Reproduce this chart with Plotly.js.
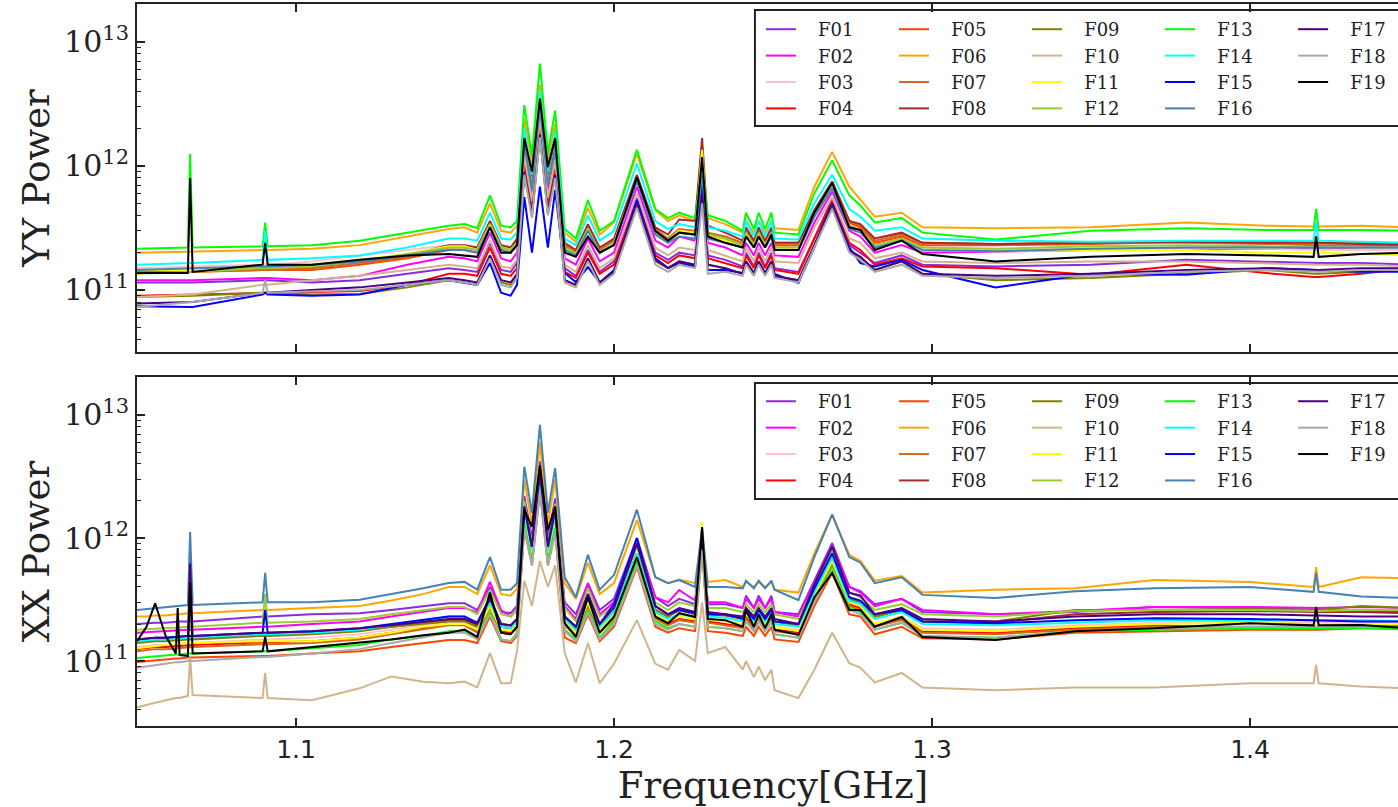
<!DOCTYPE html>
<html><head><meta charset="utf-8">
<script src="https://cdn.plot.ly/plotly-3.0.1.min.js"></script>
<style>html,body{margin:0;padding:0;overflow:hidden;background:#fff;width:1398px;height:807px}#chart{width:1415px;height:807px}</style>
</head><body><div id="chart"></div>
<script>
// Feed labels and colours
const labels = ['F01','F02','F03','F04','F05','F06','F07','F08','F09','F10','F11','F12','F13','F14','F15','F16','F17','F18','F19'];
const colors = ['#8a2be2','#ff00ff','#ffc0cb','#ff0000','#ff4500','#ffa500','#d2691e','#a52a2a','#808000','#d2b48c','#ffff00','#9acd32','#00ff00','#00ffff','#0000ff','#4682b4','#4b0082','#a9a9a9','#000000'];

// Frequency samples [GHz]
const freqYY = [1.050,1.066,1.0667,1.0675,1.0895,1.0903,1.0911,1.105,1.120,1.135,1.148,1.153,1.157,1.161,1.1645,1.1675,1.1695,1.1718,1.1742,1.1767,1.1792,1.1815,1.1845,1.188,1.1918,1.1955,1.200,1.2072,1.213,1.217,1.2205,1.2255,1.2277,1.2295,1.235,1.2405,1.2415,1.2440,1.2455,1.2475,1.2495,1.2505,1.258,1.263,1.2686,1.274,1.2775,1.282,1.2905,1.297,1.320,1.350,1.380,1.405,1.4200,1.4208,1.4216,1.435,1.450];
const freqXX = [1.050,1.0530,1.0557,1.0590,1.0622,1.0628,1.0634,1.0660,1.0667,1.0675,1.0895,1.0903,1.0911,1.105,1.120,1.130,1.140,1.148,1.153,1.157,1.161,1.1645,1.1675,1.1695,1.1718,1.1742,1.1767,1.1792,1.1815,1.1845,1.188,1.1918,1.1955,1.200,1.2072,1.213,1.217,1.2205,1.2255,1.2277,1.2295,1.235,1.2405,1.2415,1.2440,1.2455,1.2475,1.2495,1.2505,1.258,1.263,1.2686,1.274,1.2775,1.282,1.2905,1.297,1.320,1.345,1.370,1.400,1.4200,1.4208,1.4216,1.435,1.450];

// YY power, units of 1e11
const yyF01 = [1.15,1.15,1.15,1.15,1.2,1.2,1.2,1.15,1.2,1.35, 1.5,1.45,1.4,2.4,1.45,1.4,1.65,11,5,22, 5.3,10.5,1.5,1.3,2.1,1.4,1.7,5.5,2.0,1.75, 2.0,1.9,7,1.9,1.75,1.55,2.0,1.55,2.0,1.55, 2.0,1.5,1.4,2.6,5.4,2.3,2.0,1.65,1.9,1.6, 1.55,1.6,1.75,1.7,1.65,1.65,1.65,1.65,1.6];
const yyF02 = [1.2,1.2,1.2,1.2,1.25,1.25,1.25,1.2,1.3,1.6, 1.85,1.8,1.7,2.9,1.8,1.7,2.0,14,6,28, 6.5,13,1.8,1.6,2.6,1.7,2.0,6.8,2.5,2.2, 2.7,2.5,8,2.4,2.2,1.9,2.4,1.9,2.4,1.9, 2.4,1.9,1.85,3.5,6.2,3.0,2.7,2.0,2.3,2.0, 2.05,2.1,2.15,2.15,2.15,2.15,2.15,2.2,2.2];
const yyF03 = [1.5,1.55,1.55,1.55,1.6,1.6,1.6,1.7,1.9,2.1, 2.3,2.3,2.2,3.5,2.3,2.2,2.5,16,7,31, 7.5,15,2.3,2.0,3.2,2.1,2.5,8.0,3.0,2.6, 3.0,2.9,9,2.8,2.6,2.3,2.9,2.3,2.9,2.3, 2.9,2.3,2.2,4.2,7.0,3.4,3.1,2.3,2.6,2.2, 2.1,2.15,2.2,2.15,2.1,2.1,2.1,2.1,2.1];
const yyF04 = [0.9,0.92,0.92,0.92,0.95,0.95,0.95,0.97,0.98,1.1, 1.35,1.35,1.3,2.2,1.35,1.3,1.5,10,4.5,20, 4.8,9.5,1.4,1.25,2.0,1.35,1.6,5.2,1.9,1.65, 1.9,1.8,6.5,1.8,1.65,1.5,1.9,1.5,1.9,1.5, 1.9,1.45,1.35,2.6,5.2,2.4,2.1,1.6,1.8,1.55, 1.5,1.33,1.6,1.37,1.27,1.27,1.27,1.35,1.5];
const yyF05 = [1.4,1.4,1.4,1.4,1.45,1.45,1.45,1.45,1.6,1.8, 2.1,2.1,2.0,3.3,2.1,2.0,2.4,15,6.8,30, 7.2,14,2.2,1.95,3.1,2.0,2.4,8.0,3.0,2.5, 2.9,2.8,9,2.8,2.6,2.3,2.9,2.3,2.9,2.3, 2.9,2.3,2.3,4.3,7.3,3.5,3.2,2.4,2.7,2.3, 2.3,2.35,2.45,2.45,2.4,2.4,2.4,2.4,2.35];
const yyF06 = [2.0,2.05,2.05,2.05,2.1,2.1,2.1,2.15,2.3,2.7, 3.1,3.2,2.9,5.0,3.0,2.9,3.3,24,10.5,45, 11,22,2.9,2.45,4.6,2.8,3.5,12.5,4.4,3.6, 4.0,3.6,9.5,3.8,3.4,2.9,3.6,2.9,3.6,2.9, 3.6,3.15,3.05,6.8,13,6.8,5.3,3.9,4.2,3.2, 3.15,3.2,3.5,3.3,3.25,3.3,3.25,3.3,3.2];
const yyF07 = [1.4,1.4,1.4,1.4,1.45,1.45,1.45,1.5,1.65,1.85, 2.2,2.2,2.1,3.4,2.2,2.1,2.5,16,7,32, 7.5,15,2.3,2.0,3.2,2.1,2.5,8.2,3.1,2.6, 3.1,3.0,9.5,2.9,2.7,2.4,3.0,2.4,3.0,2.4, 3.0,2.4,2.4,4.4,7.5,3.6,3.3,2.5,2.8,2.4, 2.35,2.4,2.4,2.35,2.3,2.3,2.3,2.3,2.3];
const yyF08 = [1.45,1.45,1.45,1.45,1.5,1.5,1.5,1.55,1.7,1.9, 2.3,2.3,2.2,3.6,2.3,2.2,2.6,17,7.5,33, 8,16,2.4,2.1,3.4,2.2,2.6,8.5,3.2,2.8, 3.7,3.6,16.8,3.3,2.9,2.5,3.2,2.5,3.2,2.5, 3.2,2.4,2.4,4.4,7.5,3.6,3.4,2.6,2.9,2.4, 2.35,2.4,2.45,2.4,2.4,2.4,2.4,2.35,2.3];
const yyF09 = [0.88,0.9,0.9,0.9,0.95,0.95,0.95,0.92,0.93,1.05, 1.2,1.15,1.1,1.9,1.15,1.1,1.3,9,4,18, 4.2,8.5,1.2,1.1,1.8,1.14,1.4,4.8,1.7,1.5, 1.7,1.6,6,1.6,1.5,1.35,1.7,1.35,1.7,1.35, 1.7,1.3,1.2,2.3,4.7,2.1,1.8,1.45,1.7,1.35, 1.2,1.25,1.35,1.45,1.35,1.35,1.35,1.4,1.45];
const yyF10 = [0.88,0.92,0.92,0.92,1.1,1.1,1.1,1.2,1.3,1.45, 1.6,1.55,1.5,2.5,1.55,1.5,1.75,12,5.2,24, 5.5,11,1.6,1.4,2.3,1.5,1.8,6.0,2.2,1.9, 2.2,2.1,7,2.1,1.9,1.7,2.2,1.7,2.2,1.7, 2.2,1.7,1.65,3.2,5.6,2.6,2.4,1.8,2.0,1.7, 1.65,1.7,1.7,1.65,1.6,1.6,1.6,1.6,1.55];
const yyF11 = [1.45,1.45,1.45,1.45,1.55,1.55,1.55,1.6,1.75,1.95, 2.25,2.25,2.1,3.4,2.2,2.1,2.4,15,6.8,31, 7.3,14,2.2,1.95,3.1,2.0,2.4,7.8,3.0,2.5, 3.0,2.9,13.5,2.8,2.5,2.2,2.8,2.2,2.8,2.2, 2.8,2.2,2.1,4.0,6.8,3.2,3.0,2.2,2.5,2.1, 2.05,2.1,2.1,2.0,2.0,2.0,2.0,1.95,1.9];
const yyF12 = [1.35,1.4,1.4,1.4,1.5,1.5,1.5,1.55,1.7,1.95, 2.2,2.2,2.1,3.4,2.2,2.1,2.4,15,6.8,31, 7.3,14,2.2,1.95,3.1,2.0,2.4,7.8,2.9,2.5, 2.9,2.8,9,2.8,2.6,2.3,2.9,2.3,2.9,2.3, 2.9,2.2,2.2,4.1,6.9,3.3,3.0,2.3,2.6,2.2, 2.15,2.25,2.3,2.25,2.2,2.2,2.2,2.2,2.2];
const yyF13 = [2.15,2.2,12.5,2.2,2.25,3.5,2.25,2.3,2.5,2.9, 3.3,3.4,3.15,5.8,3.3,3.2,3.6,31,12,67, 12.5,28,3.1,2.6,5.3,3.0,3.6,13.5,4.5,3.8, 4.2,3.8,10,4.0,3.6,3.0,4.2,3.1,4.2,3.1, 4.2,2.9,2.8,6.0,11.1,5.8,4.8,3.5,3.8,2.9, 2.55,3.0,3.15,3.05,3.05,4.5,3.05,3.05,3.0];
const yyF14 = [1.6,1.65,1.65,1.65,1.75,3.0,1.75,1.8,1.9,2.2, 2.6,2.6,2.5,4.2,2.6,2.55,2.9,20,8.5,40, 9,19,2.6,2.3,4.0,2.5,3.0,10.5,3.6,3.1, 3.4,3.2,9,3.2,3.0,2.7,3.6,2.7,3.6,2.7, 3.6,2.6,2.55,5.0,8.5,4.5,3.9,3.0,3.2,2.6, 2.5,2.45,2.5,2.5,2.5,3.5,2.5,2.45,2.4];
const yyF15 = [0.74,0.73,0.73,0.73,0.92,0.95,0.92,0.9,0.92,1.1, 1.2,1.14,1.1,1.65,0.95,0.9,1.1,5.6,2.0,6.8, 2.2,6.4,1.37,1.16,1.53,1.15,1.4,5.3,1.8,1.5, 1.65,1.55,8,1.45,1.45,1.37,1.7,1.37,1.7,1.37, 1.7,1.35,1.14,2.2,5.0,2.2,1.65,1.55,1.75,1.45, 1.05,1.35,1.33,1.5,1.45,1.45,1.45,1.4,1.4];
const yyF16 = [1.45,1.5,1.5,1.5,1.55,1.55,1.55,1.6,1.7,1.9, 2.1,2.1,2.0,3.2,2.1,2.0,2.3,15,6.5,30, 7,14,2.1,1.9,3.0,2.0,2.3,7.5,2.8,2.4, 2.7,2.6,8.5,2.6,2.4,2.2,2.7,2.2,2.7,2.2, 2.7,2.1,2.1,3.9,6.6,3.1,2.9,2.2,2.5,2.1, 2.05,2.15,2.2,2.2,2.2,2.2,2.2,2.2,2.2];
const yyF17 = [0.78,0.8,0.8,0.8,0.95,0.95,0.95,1.0,1.05,1.15, 1.25,1.2,1.15,1.9,1.2,1.15,1.35,9,4,18, 4.2,8.5,1.2,1.1,1.8,1.15,1.45,5.0,1.75,1.5, 1.7,1.6,6,1.6,1.5,1.35,1.7,1.35,1.7,1.35, 1.7,1.3,1.2,2.3,5.0,2.1,1.85,1.45,1.7,1.35, 1.3,1.35,1.45,1.5,1.45,1.45,1.45,1.5,1.5];
const yyF18 = [0.73,0.8,0.8,0.8,0.95,1.2,0.95,0.97,1.0,1.1, 1.2,1.15,1.1,1.8,1.1,1.05,1.25,8.5,3.8,17, 4.0,8,1.15,1.05,1.7,1.1,1.35,4.6,1.6,1.4, 1.6,1.5,5,1.35,1.4,1.3,1.6,1.3,1.6,1.3, 1.6,1.25,1.15,2.2,4.5,2.0,1.75,1.4,1.6,1.3, 1.25,1.3,1.4,1.45,1.4,1.4,1.4,1.45,1.45];
const yyF19 = [1.37,1.37,8.0,1.4,1.6,2.4,1.6,1.6,1.75,1.9, 1.95,1.9,1.85,3.2,2.0,2.0,2.3,16.8,9.0,35, 9.8,16.8,2.0,1.85,2.7,2.0,2.3,8.1,3.0,2.5, 2.9,2.8,11.8,2.7,2.4,2.2,2.7,2.2,2.7,2.2, 2.8,2.1,2.1,4.2,7.3,3.2,3.05,2.1,2.5,1.95, 1.7,1.85,1.95,1.9,1.85,2.7,1.85,1.95,2.0];

// XX power, units of 1e11
const xxF01 = [2.0,2.03,2.05,2.05,2.1,2.1,2.1,2.1,2.1,2.1, 2.3,2.3,2.3,2.4,2.45,2.6,2.8,2.95,2.95,2.6, 4.0,2.5,2.45,2.8,22,10,42,10,21,3.0, 2.4,4.3,2.6,3.2,10,3.3,2.8,3.2,2.9,10, 2.9,2.9,2.7,3.4,2.7,3.4,2.7,3.4,2.5,2.4, 4.5,9.1,4.0,3.7,2.9,3.2,2.5,2.4,2.5,2.75, 2.7,2.6,2.6,2.6,2.55,2.5];
const xxF02 = [1.7,1.72,1.75,1.75,1.78,1.78,1.78,1.8,1.8,1.8, 1.9,1.9,1.9,2.0,2.1,2.3,2.5,2.7,2.7,2.5, 4.4,2.6,2.3,2.6,20,9,38,9,19,2.8, 2.2,4.2,2.4,3.0,9,3.3,3.0,3.78,3.1,10, 3.0,3.0,2.7,3.2,2.7,3.2,2.7,3.2,2.5,2.3, 4.3,8.5,4.0,3.6,2.8,3.2,2.6,2.4,2.55,2.75, 2.75,2.7,2.7,2.7,2.75,2.7];
const xxF03 = [1.3,1.32,1.35,1.35,1.38,1.38,1.38,1.4,1.4,1.4, 1.5,1.5,1.5,1.55,1.65,1.8,1.95,2.1,2.1,1.85, 2.9,1.8,1.75,2.0,15,7.5,30,7.5,14,2.1, 1.7,3.0,1.8,2.4,7,2.4,2.1,2.3,2.2,9, 2.2,2.1,2.0,2.4,2.0,2.4,2.0,2.4,1.9,1.8, 3.4,6.5,3.0,2.8,2.0,2.3,1.85,1.8,1.95,2.05, 2.1,2.05,2.05,2.05,2.05,2.05];
const xxF04 = [1.25,1.27,1.3,1.3,1.32,1.32,1.32,1.35,1.35,1.35, 1.42,1.42,1.42,1.45,1.55,1.7,1.85,2.0,2.0,1.75, 2.8,1.75,1.7,1.9,14,7,28,7,13,2.0, 1.65,2.9,1.75,2.3,6.8,2.3,2.0,2.2,2.1,9, 2.1,2.0,1.9,2.3,1.9,2.3,1.9,2.3,1.8,1.7, 3.3,6.2,2.9,2.7,1.95,2.2,1.75,1.7,1.85,1.95, 1.85,1.85,1.85,1.85,1.9,1.9];
const xxF05 = [0.98,1.0,1.02,1.03,1.05,1.05,1.05,1.07,1.07,1.07, 1.1,1.1,1.1,1.15,1.2,1.3,1.4,1.48,1.48,1.4, 2.3,1.45,1.4,1.6,12,6,24,6,11,1.55, 1.4,2.4,1.45,1.9,5.8,1.9,1.7,1.85,1.75,8, 1.75,1.7,1.6,1.9,1.6,1.9,1.6,1.9,1.5,1.43, 2.8,5.2,2.4,2.3,1.65,1.9,1.53,1.5,1.7,1.75, 1.8,1.8,1.8,1.8,1.85,1.85];
const xxF06 = [2.3,2.3,2.35,2.35,2.4,2.4,2.4,2.45,2.45,2.45, 2.6,2.6,2.6,2.7,2.8,3.1,3.5,4.0,4.0,3.5, 6.0,3.5,3.4,3.9,30,13,60,13,30,4.3, 3.2,6.3,3.5,4.3,14,4.8,4.3,4.6,4.3,11, 4.4,4.55,4.0,4.4,4.0,4.4,4.0,4.4,3.8,3.6, 7.5,15.5,7.3,6.5,4.5,4.9,3.6,3.8,3.9,4.55, 4.4,4.0,5.8,4.0,4.8,4.7];
const xxF07 = [1.2,1.22,1.25,1.25,1.27,1.27,1.27,1.3,1.3,1.3, 1.37,1.37,1.37,1.4,1.5,1.65,1.8,1.95,1.95,1.7, 2.7,1.7,1.65,1.85,14,7,27,7,13,1.95, 1.6,2.8,1.7,2.2,6.5,2.2,1.95,2.15,2.05,9, 2.05,1.95,1.85,2.2,1.85,2.2,1.85,2.2,1.75,1.65, 3.2,6.0,2.8,2.6,1.9,2.15,1.7,1.65,1.8,1.9, 1.9,1.9,1.9,1.9,1.95,1.95];
const xxF08 = [1.45,1.47,1.5,1.5,1.5,1.5,1.5,1.52,1.52,1.52, 1.62,1.62,1.62,1.68,1.78,1.9,2.05,2.15,2.15,1.95, 3.1,1.9,1.85,2.1,17,8,33,8,16,2.2, 1.8,3.3,1.9,2.5,7.5,2.6,2.3,2.6,2.4,9, 2.4,2.35,2.2,2.6,2.2,2.6,2.2,2.6,2.1,1.95, 3.6,7.0,3.2,3.0,2.3,2.6,2.1,2.05,2.4,2.5, 2.55,2.5,2.5,2.5,2.5,2.45];
const xxF09 = [1.4,1.42,1.45,1.45,1.48,1.48,1.48,1.5,1.5,1.5, 1.6,1.6,1.6,1.65,1.75,1.9,2.0,2.1,2.1,1.9, 3.0,1.9,1.85,2.1,17,8,32,8,16,2.2, 1.8,3.3,1.9,2.5,7.5,2.6,2.3,2.6,2.4,9, 2.4,2.4,2.2,2.6,2.2,2.6,2.2,2.6,2.1,1.95, 3.6,7.0,3.2,3.0,2.3,2.6,2.1,2.1,2.6,2.6, 2.65,2.6,2.6,2.6,2.8,2.7];
const xxF10 = [0.42,0.44,0.46,0.48,0.5,0.5,0.5,0.52,1.07,0.53, 0.5,0.8,0.5,0.48,0.6,0.75,0.68,0.66,0.68,0.61, 1.16,0.66,0.66,1.2,4.5,2.8,6.5,4.0,6.0,1.16, 0.67,1.4,0.66,0.95,2.15,0.95,0.85,1.23,1.0,3.0, 1.16,1.3,0.85,1.0,0.74,0.9,0.7,0.85,0.58,0.5, 0.85,1.7,0.96,0.88,0.67,0.8,0.61,0.58,0.61,0.61, 0.66,0.66,0.93,0.66,0.62,0.6];
const xxF11 = [1.27,1.3,1.32,1.35,1.38,1.38,1.38,1.4,1.4,1.4, 1.45,1.45,1.45,1.45,1.55,1.7,1.9,2.0,2.0,1.8, 2.8,1.8,1.75,2.0,15,7.5,30,7.5,14,2.1, 1.7,3.0,1.8,2.4,7,2.4,2.1,2.3,2.2,13.5, 2.2,2.1,2.0,2.4,2.0,2.4,2.0,2.4,1.9,1.75, 3.4,6.5,3.0,2.8,2.0,2.3,1.8,1.75,1.9,2.0, 2.05,2.0,2.0,2.0,2.0,2.0];
const xxF12 = [1.8,1.82,1.85,1.85,1.88,1.88,1.88,1.9,1.9,1.9, 2.05,3.5,2.05,2.1,2.2,2.4,2.6,2.75,2.75,2.4, 3.8,2.4,2.3,2.6,20,9,36,9,19,2.7, 2.1,3.9,2.3,2.8,8.5,3.0,2.6,3.0,2.8,10, 2.7,2.7,2.5,2.9,2.5,2.9,2.5,2.9,2.4,2.2, 4.0,8.0,3.6,3.3,2.6,2.9,2.4,2.3,2.55,2.6, 2.6,2.55,2.55,2.55,2.6,2.6];
const xxF13 = [1.06,1.08,1.1,1.12,1.13,1.13,1.13,1.15,1.15,1.15, 1.2,1.2,1.2,1.27,1.35,1.5,1.6,1.75,1.75,1.55, 2.5,1.5,1.45,1.7,13,6.5,26,6.5,12,1.8, 1.5,2.6,1.55,2.1,6.3,2.1,1.85,2.0,1.9,8.5, 1.9,1.85,1.75,2.1,1.75,2.1,1.75,2.1,1.65,1.55, 3.1,5.8,2.7,2.5,1.8,2.05,1.6,1.55,1.75,1.8, 1.85,1.85,1.85,1.85,1.85,1.8];
const xxF14 = [1.45,1.47,1.5,1.5,1.52,1.52,1.52,1.55,1.55,1.55, 1.65,1.65,1.65,1.7,1.8,1.95,2.15,2.3,2.3,2.0, 3.0,1.9,1.85,2.1,16,8,32,8,15,2.2, 1.8,3.2,1.9,2.5,7.5,2.5,2.2,2.4,2.3,9, 2.3,2.25,2.1,2.5,2.1,2.5,2.1,2.5,2.0,1.9, 3.6,7.0,3.1,2.9,2.2,2.5,2.0,1.95,2.05,2.15, 2.15,2.15,2.15,2.15,2.15,2.1];
const xxF15 = [1.5,1.52,1.55,1.55,1.58,1.58,1.58,1.6,1.6,1.6, 1.7,2.6,1.7,1.75,1.85,2.0,2.15,2.3,2.3,2.05, 3.3,2.0,1.95,2.2,18,8.5,35,8.5,17,2.3, 1.9,3.5,2.0,2.9,10,2.8,2.4,2.6,2.45,9, 2.4,2.4,2.2,2.6,2.2,2.6,2.2,2.6,2.1,2.0, 3.9,7.5,3.3,3.1,2.4,2.6,2.1,2.03,2.15,2.23, 2.2,2.15,2.15,2.15,2.1,2.1];
const xxF16 = [2.6,2.65,2.7,2.75,2.8,2.8,2.8,2.85,11.2,2.85, 3.0,5.2,3.0,3.0,3.15,3.5,3.9,4.3,4.4,3.8, 7.0,3.8,3.8,4.3,38,16,83,16,37,4.8, 3.3,7.3,3.8,5.0,17,4.8,4.3,4.55,4.0,12, 4.0,4.0,3.9,4.5,3.9,4.5,3.9,4.5,3.8,3.13, 7.0,15.5,7.0,6.3,4.3,4.8,3.45,3.25,3.7,3.9, 4.0,3.65,5.2,3.65,3.35,3.25];
const xxF17 = [1.5,1.52,1.55,1.55,1.58,1.58,1.58,1.6,6.2,1.6, 1.7,1.7,1.7,1.75,1.85,1.95,2.1,2.2,2.2,2.0, 3.2,2.0,1.95,2.2,18,8.5,35,8.5,17,2.3, 1.9,3.5,2.0,2.7,9,2.8,2.4,2.7,2.5,9, 2.5,2.4,2.3,2.7,2.3,2.7,2.3,2.7,2.2,2.0, 4.2,8.5,3.6,3.4,2.4,2.7,2.2,2.1,2.3,2.4, 2.4,2.35,2.35,2.35,2.3,2.3];
const xxF18 = [0.88,0.9,0.92,0.95,0.98,0.98,0.98,1.0,1.0,1.0, 1.08,1.08,1.08,1.15,1.25,1.4,1.55,1.7,1.7,1.5, 2.4,1.5,1.45,1.65,12,6,24,6,11,1.75, 1.45,2.5,1.5,2.0,6.0,2.0,1.8,2.0,1.9,8, 1.9,1.85,1.75,2.1,1.75,2.1,1.75,2.1,1.65,1.55, 3.0,5.5,2.6,2.4,1.8,2.05,1.6,1.55,1.75,1.85, 1.9,1.9,1.9,1.9,1.9,1.9];
const xxF19 = [1.45,1.9,2.95,1.6,1.15,2.7,1.12,1.1,4.3,1.15, 1.2,1.57,1.2,1.3,1.4,1.5,1.62,1.7,1.8,1.57, 3.6,1.7,1.65,1.9,17,12.3,39,11.6,18,2.03, 1.57,3.3,1.7,2.3,7.0,2.3,2.03,2.45,2.28,12.3, 2.2,2.15,1.9,2.6,1.9,2.4,1.85,2.4,1.8,1.63, 3.3,5.2,2.6,2.6,1.9,2.28,1.57,1.48,1.75,1.85, 2.03,1.95,2.75,1.95,1.96,1.85];

const yyData = [yyF01,yyF02,yyF03,yyF04,yyF05,yyF06,yyF07,yyF08,yyF09,yyF10,yyF11,yyF12,yyF13,yyF14,yyF15,yyF16,yyF17,yyF18,yyF19];
const xxData = [xxF01,xxF02,xxF03,xxF04,xxF05,xxF06,xxF07,xxF08,xxF09,xxF10,xxF11,xxF12,xxF13,xxF14,xxF15,xxF16,xxF17,xxF18,xxF19];
const UNIT = 1e11;
const yTickVals = [1e11, 1e12, 1e13];
const yTickText = ['10<sup>11</sup>','10<sup>12</sup>','10<sup>13</sup>'];
const xTickVals = [1.1, 1.2, 1.3, 1.4];

const PAD = '\u00a0\u00a0\u00a0';
function legendKey(i, panel) {
  const n = panel * 5 + Math.floor(i / 4) + 1;
  return n === 1 ? 'legend' : 'legend' + n;
}
const traces = [];
labels.forEach((lab, i) => {
  traces.push({type:'scatter', mode:'lines', x: freqYY, y: yyData[i].map(v => v * UNIT),
    xaxis:'x2', yaxis:'y2', name: PAD + lab, legend: legendKey(i, 0),
    line:{color: colors[i], width: 2}});
});
labels.forEach((lab, i) => {
  traces.push({type:'scatter', mode:'lines', x: freqXX, y: xxData[i].map(v => v * UNIT),
    xaxis:'x', yaxis:'y', name: PAD + lab, legend: legendKey(i, 1),
    line:{color: colors[i], width: 2}});
});

const minorVals = [];
[1e10, 1e11, 1e12, 1e13].forEach(d => { for (let k = 2; k <= 9; k++) minorVals.push(k * d); });

const ink = '#222';
function yAxis(domain, range, title) {
  return {type:'log', domain: domain, range: range, tickvals: yTickVals, ticktext: yTickText,
    ticks:'inside', ticklen: 8, tickwidth: 1.5, tickcolor: ink,
    showline: true, linewidth: 2, linecolor: ink, mirror: 'ticks',
    showgrid: false, zeroline: false,
    tickfont:{family:'DejaVu Serif', size: 30, color: ink},
    minor:{tickvals: minorVals, ticks:'inside', ticklen: 4, tickwidth: 1, tickcolor: ink, showgrid: false},
    title:{text: title, font:{family:'DejaVu Serif', size: 37, color: ink}, standoff: 3}};
}
function xAxis(showLabels, anchor, title) {
  const a = {range:[1.05, 1.45], tickvals: xTickVals, tickformat: '.1f', anchor: anchor,
    ticks:'inside', ticklen: 8, tickwidth: 1.5, tickcolor: ink,
    showline: true, linewidth: 2, linecolor: ink, mirror: 'ticks',
    showgrid: false, zeroline: false, showticklabels: showLabels,
    tickfont:{family:'DejaVu Sans', size: 25, color: ink}};
  if (title) a.title = {text: title, font:{family:'DejaVu Serif', size: 37, color: ink}, standoff: 8};
  return a;
}

const layout = {
  width: 1415, height: 807,
  margin:{l:137, r:6, t:4, b:81},
  paper_bgcolor:'#fff', plot_bgcolor:'#fff',
  font:{family:'DejaVu Serif', color: ink},
  hovermode: false,
  xaxis: xAxis(true, 'y', 'Frequency[GHz]'),
  xaxis2: Object.assign(xAxis(false, 'y2'), {matches:'x'}),
  yaxis: yAxis([0, 0.4834], [10.472, 13.309], 'XX Power'),
  yaxis2: yAxis([0.518, 1], [10.5, 13.306], 'YY Power'),
  shapes: [
    {type:'rect', xref:'paper', yref:'paper', x0:0.4858, x1:1.1, y0:0.831, y1:0.9917, line:{color:ink, width:2}, fillcolor:'#fff', layer:'below'},
    {type:'rect', xref:'paper', yref:'paper', x0:0.4858, x1:1.1, y0:0.3144, y1:0.4751, line:{color:ink, width:2}, fillcolor:'#fff', layer:'below'}
  ]
};
for (let p = 0; p < 2; p++) {
  for (let c = 0; c < 5; c++) {
    const n = p * 5 + c + 1;
    const key = n === 1 ? 'legend' : 'legend' + n;
    layout[key] = {x: 0.4905 + c * 0.1046, y: p === 0 ? 0.9903 : 0.475, xanchor:'left', yanchor:'top',
      bgcolor:'rgba(0,0,0,0)', borderwidth: 0, font:{family:'DejaVu Serif', size: 18, color: ink}};
  }
}
Plotly.newPlot('chart', traces, layout, {displayModeBar: false, staticPlot: true});
</script></body></html>
